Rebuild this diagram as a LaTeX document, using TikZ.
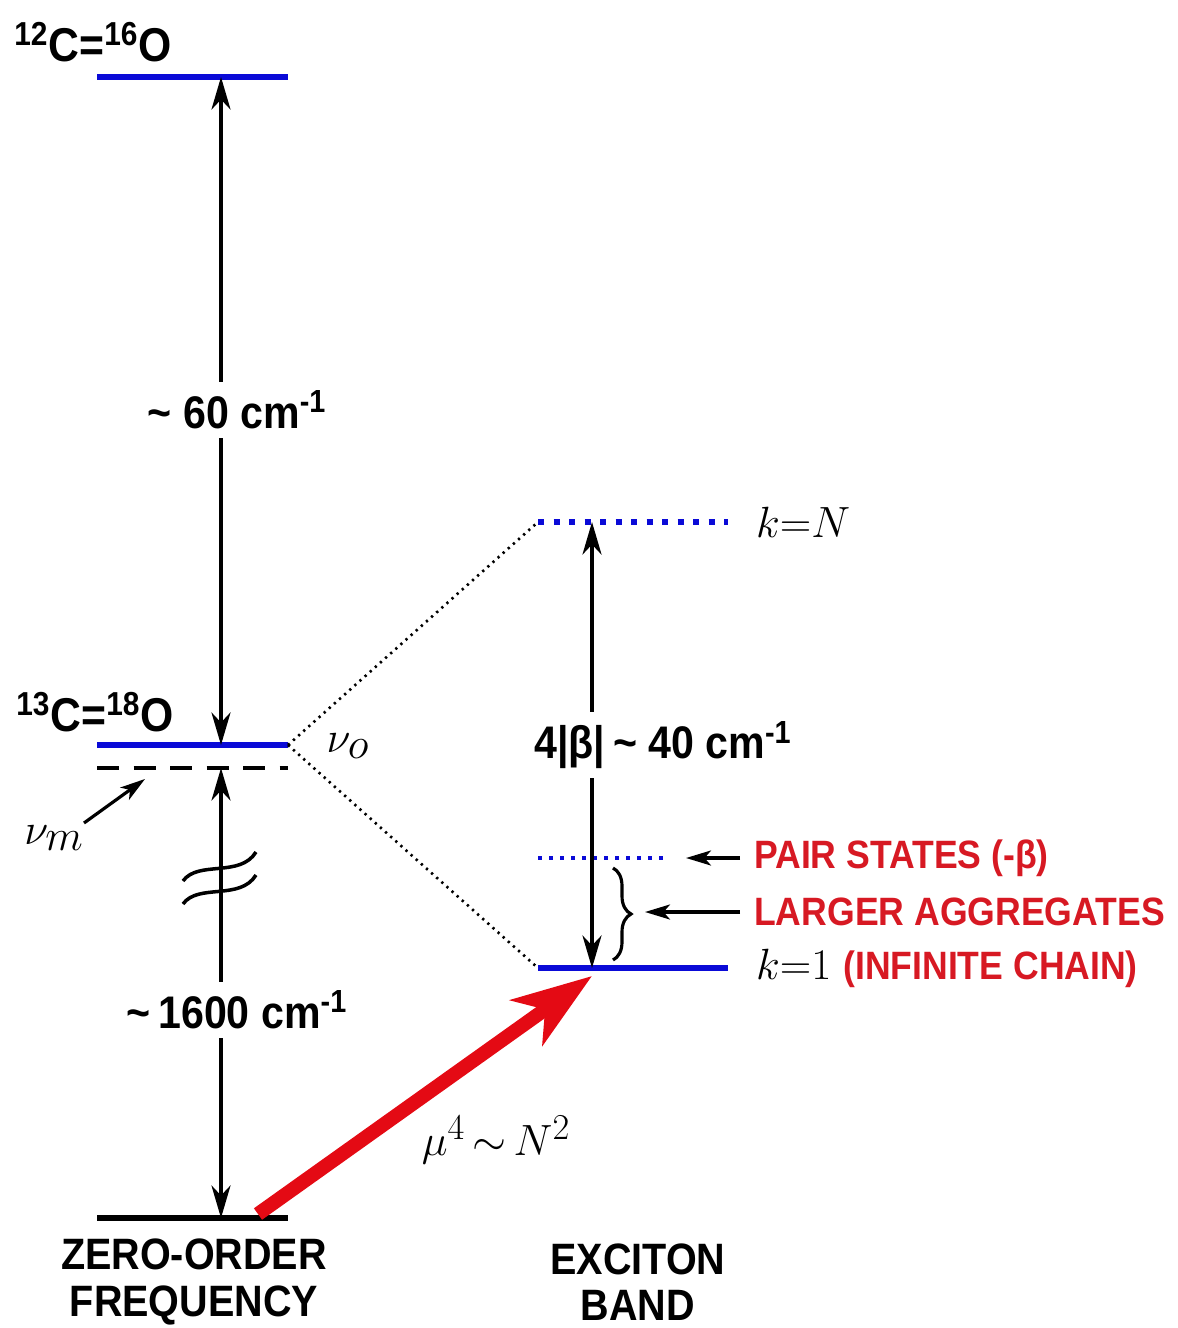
\documentclass[tikz,border=0pt]{standalone}
\usepackage{fontspec}
\setmainfont{Liberation Sans}[FakeStretch=0.9]
\usetikzlibrary{arrows.meta,decorations.pathreplacing}

\definecolor{levblue}{RGB}{10,10,215}
\definecolor{labred}{RGB}{215,25,35}
\definecolor{arrred}{RGB}{228,10,20}

\newcommand{\isofont}{\fontsize{27}{30}\selectfont\bfseries}
\newcommand{\gapfont}{\fontsize{26}{28}\selectfont\bfseries}
\newcommand{\redfont}{\fontsize{22.5}{25}\selectfont\bfseries\color{labred}}
\newcommand{\axfont}{\fontsize{25}{26.5}\selectfont\bfseries}

\begin{document}
\begin{tikzpicture}[x=0.2mm,y=-0.2mm,
    level/.style={line width=3.4pt,levblue},
    gaparrow/.style={{Stealth[length=6.5mm,width=3.8mm,inset=2mm]}-{Stealth[length=6.5mm,width=3.8mm,inset=2mm]},line width=2pt},
    ptr/.style={-{Stealth[length=5mm,width=3mm,inset=1.3mm]},line width=1.8pt},
    corr/.style={line width=1.5pt,dash pattern=on 1.3pt off 2.6pt},
    gaplabel/.style={fill=white,inner sep=5pt}]
  \useasboundingbox (0,0) rectangle (1178,1328);

  % zero-order side
  \coordinate (ul) at (97,77);   \coordinate (ur) at (288,77);   \coordinate (um) at (221,77);
  \coordinate (ol) at (97,745);  \coordinate (or) at (288,745);  \coordinate (om) at (221,745);
  \coordinate (ml) at (97,768);  \coordinate (mr) at (288,768);  \coordinate (mm) at (221,768);
  \coordinate (gl) at (97,1218); \coordinate (gr) at (288,1218); \coordinate (gm) at (221,1218);

  \draw[level] (ul) -- (ur);
  \draw[level] (ol) -- (or);
  \draw[line width=2.6pt,dash pattern=on 4.4mm off 2.9mm] (ml) -- (mr);
  \draw[line width=3.6pt] (gl) -- (gr);

  \node (iso12) at (93,42) {\isofont\textsuperscript{12}C=\textsuperscript{16}O};
  \node (iso13) at (95,712) {\isofont\textsuperscript{13}C=\textsuperscript{18}O};

  \draw[gaparrow] (um) -- (om);
  \node[gaplabel] (gap60) at (237,410) {\gapfont\textasciitilde\ 60 cm\textsuperscript{-1}};
  \draw[gaparrow] (gm) -- (mm);
  \node[gaplabel] (gap1600) at (237,1010) {\gapfont\textasciitilde\,1600 cm\textsuperscript{-1}};

  % break marks
  \draw[line width=2pt] (183,881) .. controls (198,860) and (240,878) .. (256,852);
  \draw[line width=2pt] (183,904) .. controls (198,883) and (240,901) .. (256,875);

  \node (nuo) at (348,746) {\fontsize{36}{40}\selectfont$\nu_o$};
  \node (num) at (54,838) {\fontsize{36}{40}\selectfont$\nu_m$};
  \coordinate (numtip) at (145,779);
  \draw[ptr] (84,823) -- (numtip);

  % exciton band
  \coordinate (nl) at (538,522); \coordinate (nr) at (728,522); \coordinate (nm) at (592,522);
  \coordinate (pl) at (538,858); \coordinate (pr) at (665,858);
  \coordinate (kl) at (538,968); \coordinate (kr) at (728,968); \coordinate (km) at (592,968);

  \draw[levblue,line width=1.1mm,dash pattern=on 1.2mm off 1.9mm] (nl) -- (nr);
  \draw[levblue,line width=0.8mm,dash pattern=on 0.8mm off 1.4mm] (pl) -- (pr);
  \draw[level] (kl) -- (kr);

  \draw[corr] (or) -- (nl);
  \draw[corr] (or) -- (kl);

  \draw[gaparrow] (nm) -- (km);
  \node[gaplabel] (gap40) at (663,745) {\gapfont 4|β|\,\textasciitilde\ 40 cm\textsuperscript{-1}};

  \node[anchor=west] (kN) at (750,522) {\fontsize{27}{30}\selectfont$k{=}N$};
  \node[anchor=west] (k1) at (750,968) {\fontsize{27}{30}\selectfont$k{=}1$\ \redfont(INFINITE CHAIN)};

  \draw[line width=1.8pt,decorate,decoration={brace,amplitude=3.6mm}] (613,868) -- (613,960);
  \coordinate (brace) at (645,912);

  \node[anchor=west] (pair) at (748,858) {\redfont PAIR STATES (-β)};
  \node[anchor=west] (aggr) at (748,912) {\redfont LARGER AGGREGATES};
  \draw[ptr] (pair.west) ++(-8,0) coordinate (pairtail) (pairtail) -- (686,858);
  \draw[ptr] (aggr.west) ++(-8,0) coordinate (aggrtail) (aggrtail) -- (brace);

  % transition
  \coordinate (redtail) at (258,1214);
  \coordinate (redtip) at (592,976);
  \draw[arrred,line width=8pt,-{Stealth[length=16mm,width=11mm,inset=4.5mm]}] (redtail) -- (redtip);
  \node (mu) at (496,1140) {\fontsize{28}{30}\selectfont$\mu^4\,{\sim}\,N^2$};

  \node[align=center,font=\axfont] (zero) at (194,1282) {ZERO-ORDER\\FREQUENCY};
  \node[align=center,font=\axfont] (band) at (638,1282) {EXCITON\\BAND};
\end{tikzpicture}
\end{document}
